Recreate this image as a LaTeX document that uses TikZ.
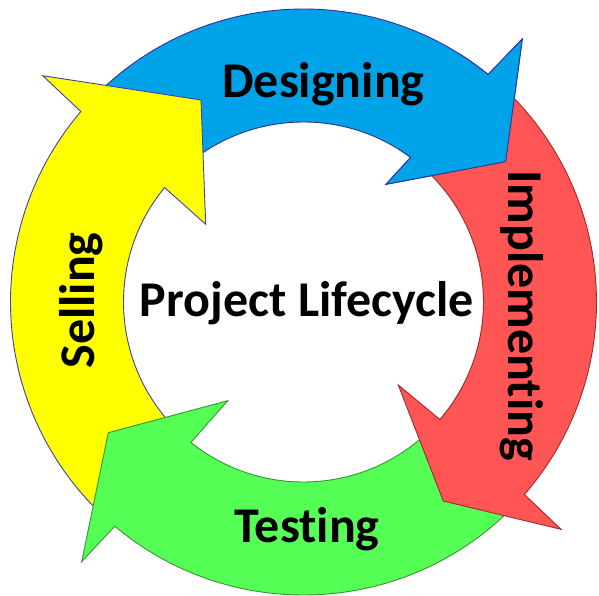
\documentclass[tikz,border=0pt]{standalone}
\usepackage{fontspec}
\setmainfont{Carlito}[Ligatures={NoCommon}]
\definecolor{bluefill}{RGB}{0,162,232}
\definecolor{blueline}{RGB}{48,48,160}
\definecolor{yellowfill}{RGB}{255,255,0}
\definecolor{yellowline}{RGB}{64,64,170}
\definecolor{redfill}{RGB}{255,85,85}
\definecolor{redline}{RGB}{160,40,40}
\definecolor{greenfill}{RGB}{85,255,85}
\definecolor{greenline}{RGB}{50,150,50}
% #1 style, #2 tail angle, #3 outer notch angle, #4 outer barb, #5 tip, #6 inner barb, #7 inner notch angle
\newcommand\cyclearrow[7]{%
  \draw[#1] (#2:293) arc[start angle=#2, end angle=#3, radius=293]
    -- #4 -- #5 -- #6 -- (#7:180) arc[start angle=#7, end angle=#2, radius=180] -- cycle;}
\begin{document}
\begin{tikzpicture}[x=1pt,y=1pt,
  bluearrow/.style={fill=bluefill,draw=blueline,line width=0.9pt,line join=miter},
  yellowarrow/.style={fill=yellowfill,draw=yellowline,line width=0.9pt,line join=miter},
  redarrow/.style={fill=redfill,draw=redline,line width=0.9pt,line join=miter},
  greenarrow/.style={fill=greenfill,draw=greenline,line width=0.9pt,line join=miter},
  label/.style={font=\fontsize{50}{60}\selectfont\bfseries,text=black,inner sep=0pt}]
\fill[white] (-303.5,-293) rectangle (295.5,302);
\useasboundingbox (-303.5,-293) rectangle (295.5,302);
% Designing (blue)
\cyclearrow{bluearrow}{139}{50.95}{(218.8,263)}{(202.2,140.3)}{(82.5,117.7)}{53.46}
% Selling (yellow)
\cyclearrow{yellowarrow}{229.5}{139.46}{(-260.8,226.3)}{(-102.5,202)}{(-97.8,77.7)}{140.51}
% Testing (green)
\cyclearrow{greenarrow}{-41.5}{-130.09}{(-221.8,-259.7)}{(-195.2,-130.7)}{(-75.8,-98.7)}{-128.72}
% Implementing (red)
\cyclearrow{redarrow}{50.5}{-41.07}{(257.5,-227.3)}{(139.8,-199)}{(94.8,-83)}{-40.75}
% blue arrow head again, on top of the red tail
\begin{scope}
  \clip (0,0) -- (30:420) arc[start angle=30, end angle=58, radius=420] -- cycle;
  \cyclearrow{bluearrow}{139}{50.95}{(218.8,263)}{(202.2,140.3)}{(82.5,117.7)}{53.46}
\end{scope}
% labels
\node[label,anchor=base] (designing) at (20,205) {Designing};
\node[label,anchor=base,rotate=-90] (implementing) at (204.5,-13.5) {Implementing};
\node[label,anchor=base] (testing) at (3.5,-240) {Testing};
\node[label,anchor=base,rotate=90] (selling) at (-208.5,1.5) {Selling};
\node[label,anchor=base] (center) at (3.5,-14) {Project Lifecycle};
\end{tikzpicture}
\end{document}
